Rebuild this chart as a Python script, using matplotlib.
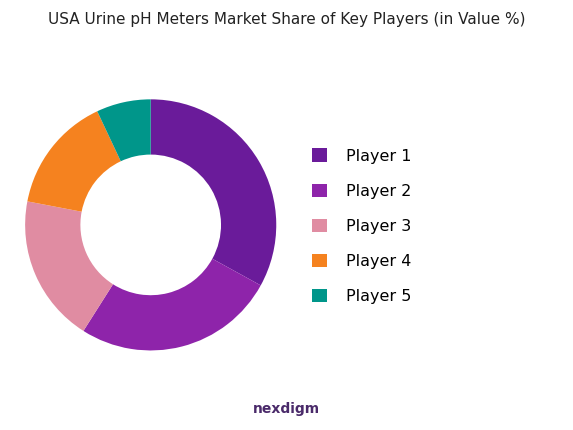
import matplotlib
matplotlib.use("Agg")
import matplotlib.pyplot as plt
from matplotlib.patches import Patch

labels = ["Player 1", "Player 2", "Player 3", "Player 4", "Player 5"]
values = [33, 26, 19, 15, 7]
colors = ["#6A1B9A", "#8E24AA", "#E08CA2", "#F5821F", "#00968A"]

fig = plt.figure(figsize=(5.73, 4.30), dpi=100)
fig.patch.set_facecolor("white")
ax = fig.add_axes([-0.012, 0.112, 0.55, 0.73])
ax.pie(values, colors=colors, startangle=90, counterclock=False,
       wedgeprops=dict(width=0.44, edgecolor="none"))
ax.set_aspect("equal")

fig.text(0.5, 0.955, "USA Urine pH Meters Market Share of Key Players (in Value %)",
         ha="center", va="center", fontsize=11, color="#222222")

handles = [Patch(facecolor=c) for c in colors]
fig.legend(handles, labels, loc="center left", bbox_to_anchor=(0.52, 0.474),
           frameon=False, fontsize=11.5, handlelength=0.9, handleheight=0.9,
           labelspacing=1.25, handletextpad=1.2)

fig.text(0.5, 0.05, "nexdigm", ha="center", va="center", fontsize=10,
         color="#4a2a6a", fontweight="bold")

fig.savefig("out.png", dpi=100)
